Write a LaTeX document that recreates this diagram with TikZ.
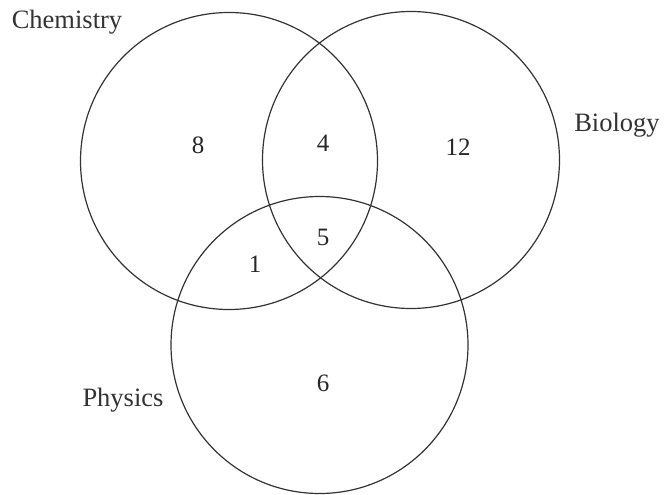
\documentclass[tikz,border=0pt]{standalone}
\usepackage{fontspec}
\setmainfont{Liberation Serif}
\usetikzlibrary{positioning}

\begin{document}
\begin{tikzpicture}[
    x=1pt, y=-1pt,
    set/.style={circle, draw=black!80, line width=1.2pt,
      minimum size=297pt, inner sep=0pt},
    lbl/.style={font=\fontsize{26.5}{30}\selectfont, text=black!80, inner sep=0pt},
    num/.style={font=\fontsize{25}{30}\selectfont, text=black!85, inner sep=0pt}
  ]
    \useasboundingbox (0,0) rectangle (664,495);

    % the three sets
    \node[set] (chem) at (229,161) {};
    \node[set] (bio) at (411,160) {};
    \node[set] (phys) at (319.5,345) {};

    % set names
    \node[lbl] (chemname) at (67,22) {Chemistry};
    \node[lbl] (bioname) at (617,125) {Biology};
    \node[lbl] (physname) at (123,400) {Physics};

    % counts
    \node[num] (conly) at (198,145) {8};
    \node[num] (cb) at (323,143) {4};
    \node[num] (bonly) at (458,147) {12};
    \node[num] (cbp) at (323,237) {5};
    \node[num] (cp) at (255,264) {1};
    \node[num] (ponly) at (323,383) {6};
  \end{tikzpicture}
\end{document}
